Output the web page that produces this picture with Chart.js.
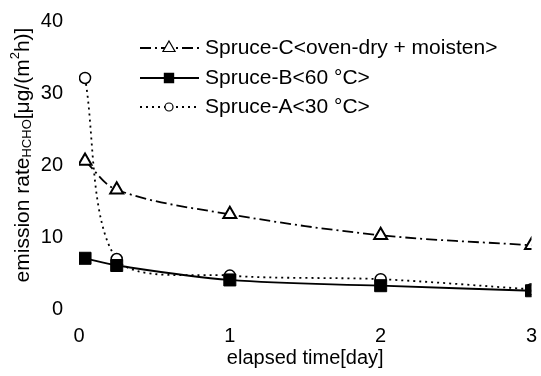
<!DOCTYPE html>
<html>
<head>
<meta charset="utf-8">
<script src="https://cdn.jsdelivr.net/npm/chart.js@4.4.1/dist/chart.umd.min.js"></script>
<style>
  html, body { margin: 0; padding: 0; background: #fff; }
  #wrap { width: 541px; height: 376px; }
</style>
</head>
<body>
<div id="wrap"><canvas id="chart"></canvas></div>
<script>
    // elapsed time [day]
    var days = [0.04, 0.25, 1, 2, 3];
    var spruceC = [20.6, 16.6, 13.2, 10.3, 8.9];
    var spruceB = [7.1, 6.1, 4.1, 3.3, 2.6];
    var spruceA = [32.1, 7.0, 4.7, 4.2, 2.8];
    var seriesNames = ['Spruce-C<oven-dry + moisten>', 'Spruce-B<60 °C>', 'Spruce-A<30 °C>'];
    var xTicks = [0, 1, 2, 3];
    var yTicks = [0, 10, 20, 30, 40];

    var FONT = '"Liberation Sans", Arial, sans-serif';

    function pts(ys) {
        return ys.map(function (y, i) { return { x: days[i], y: y }; });
    }

    // rotated y title with subscript / superscript
    var yTitlePlugin = {
        id: 'yTitle',
        afterDraw: function (chart) {
            var ctx = chart.ctx;
            var parts = [
                { t: 'emission rate', s: 21, dy: 0 },
                { t: 'HCHO', s: 13, dy: 4 },
                { t: '[μg/(m', s: 21, dy: 0 },
                { t: '2', s: 13, dy: -8 },
                { t: 'h)]', s: 21, dy: 0 }
            ];
            ctx.save();
            var total = 0;
            parts.forEach(function (p) {
                ctx.font = p.s + 'px ' + FONT;
                p.w = ctx.measureText(p.t).width;
                total += p.w;
            });
            ctx.translate(23, 155);
            ctx.rotate(-Math.PI / 2);
            ctx.fillStyle = '#000';
            ctx.textBaseline = 'middle';
            var x = -total / 2;
            parts.forEach(function (p) {
                ctx.font = p.s + 'px ' + FONT;
                ctx.fillText(p.t, x, p.dy);
                x += p.w;
            });
            ctx.restore();
        }
    };

    // legend inside plot: line sample with marker in the middle
    var legendPlugin = {
        id: 'innerLegend',
        afterDraw: function (chart) {
            var ctx = chart.ctx;
            var rows = [48, 78, 107];
            var sizes = [7, 6.5, 4];
            chart.data.datasets.forEach(function (ds, i) {
                var y = rows[i];
                ctx.save();
                ctx.strokeStyle = '#000';
                ctx.lineWidth = ds.borderWidth;
                ctx.setLineDash(ds.borderDash || []);
                ctx.beginPath();
                ctx.moveTo(140, y);
                ctx.lineTo(199, y);
                ctx.stroke();
                ctx.setLineDash([]);
                ctx.fillStyle = ds.pointBackgroundColor;
                ctx.strokeStyle = '#000';
                ctx.lineWidth = 1.2;
                Chart.helpers.drawPoint(ctx, {
                    pointStyle: ds.pointStyle,
                    radius: sizes[i],
                    borderWidth: 1.2
                }, 169, y);
                ctx.restore();
                ctx.save();
                ctx.fillStyle = '#000';
                ctx.font = '21px ' + FONT;
                ctx.textBaseline = 'middle';
                ctx.fillText(ds.label, 205, y);
                ctx.restore();
            });
        }
    };

    var ctx = document.getElementById('chart').getContext('2d');
    var config = {
        type: 'line',
        data: {
            datasets: [{
                label: seriesNames[0],
                data: pts(spruceC),
                borderColor: '#000',
                borderWidth: 1.8,
                borderDash: [11, 4, 2, 4],
                pointStyle: 'triangle',
                pointRadius: 7.5,
                pointBorderWidth: 2,
                pointBackgroundColor: '#fff',
                pointBorderColor: '#000',
                tension: 0.35
            }, {
                label: seriesNames[1],
                data: pts(spruceB),
                borderColor: '#000',
                borderWidth: 1.8,
                pointStyle: 'rect',
                pointRadius: 8.5,
                pointBorderWidth: 1,
                pointBackgroundColor: '#000',
                pointBorderColor: '#000',
                tension: 0.35
            }, {
                label: seriesNames[2],
                data: pts(spruceA),
                borderColor: '#000',
                borderWidth: 1.8,
                borderDash: [2, 4],
                pointStyle: 'circle',
                pointRadius: 5.5,
                pointBorderWidth: 1.5,
                pointBackgroundColor: '#fff',
                pointBorderColor: '#000',
                tension: 0.3
            }]
        },
        options: {
            responsive: true,
            maintainAspectRatio: false,
            animation: false,
            layout: { padding: { top: 21, right: 4, left: 0, bottom: 0 } },
            plugins: { legend: { display: false }, tooltip: { enabled: false } },
            scales: {
                x: {
                    type: 'linear',
                    min: 0, max: 3,
                    afterBuildTicks: function (s) { s.ticks = xTicks.map(function (v) { return { value: v }; }); },
                    afterFit: function (s) { s.height = 66.5; s.paddingLeft = 0; s.paddingRight = 0; },
                    grid: { display: false },
                    border: { display: false },
                    ticks: { color: '#000', font: { size: 20, family: FONT }, padding: 7 },
                    title: { display: true, text: 'elapsed time[day]', color: '#000', font: { size: 20, family: FONT }, padding: { top: 0, bottom: 6 } }
                },
                y: {
                    min: 0, max: 40,
                    afterBuildTicks: function (s) { s.ticks = yTicks.map(function (v) { return { value: v }; }); },
                    afterFit: function (s) { s.width = 79; s.paddingTop = 0; s.paddingBottom = 0; },
                    grid: { display: false },
                    border: { display: false },
                    ticks: { color: '#000', font: { size: 20, family: FONT }, padding: 8 }
                }
            }
        },
        plugins: [yTitlePlugin, legendPlugin]
    };

    var chart = new Chart(ctx, config);
</script>
</body>
</html>
